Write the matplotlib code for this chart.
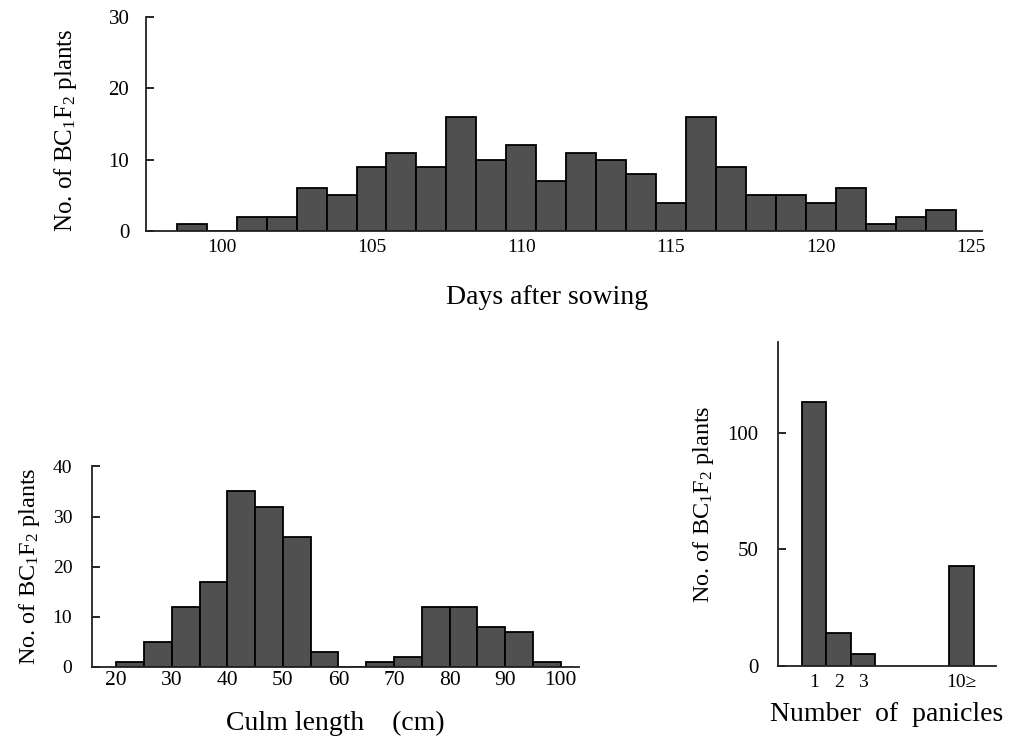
import matplotlib
matplotlib.use("Agg")
import matplotlib.pyplot as plt

plt.rcParams['font.family'] = ['Liberation Serif', 'DejaVu Serif']
plt.rcParams['mathtext.fontset'] = 'custom'
plt.rcParams['mathtext.rm'] = 'Liberation Serif'
plt.rcParams['mathtext.it'] = 'Liberation Serif:italic'

# Days after sowing (heading date), BC1F2 plants
days = list(range(99, 125))
days_counts = [1, 0, 2, 2, 6, 5, 9, 11, 9, 16, 10, 12, 7, 11, 10, 8, 4, 16, 9, 5, 5, 4, 6, 1, 2, 3]
days_ticks = [100, 105, 110, 115, 120, 125]

# Culm length (cm), bins of 5 cm starting at 20
culm_left = [20, 25, 30, 35, 40, 45, 50, 55, 60, 65, 70, 75, 80, 85, 90, 95]
culm_counts = [1, 5, 12, 17, 35, 32, 26, 3, 0, 1, 2, 12, 12, 8, 7, 1]
culm_ticks = [20, 30, 40, 50, 60, 70, 80, 90, 100]

# Number of panicles
pan_labels = ['1', '2', '3', '10≥']
pan_pos = [1, 2, 3, 7]
pan_counts = [113, 14, 5, 43]

ylab = r"No. of BC$_{\mathrm{1}}$F$_{\mathrm{2}}$ plants"
bar_kw = dict(color='#505050', edgecolor='black', linewidth=1.3)

fig = plt.figure(figsize=(10.09, 7.43), dpi=100)


def style(ax):
    for s in ['top', 'right']:
        ax.spines[s].set_visible(False)
    for s in ['left', 'bottom']:
        ax.spines[s].set_linewidth(1.3)
        ax.spines[s].set_color('#222222')


# top panel
ax1 = fig.add_axes([0.1447, 0.689, 0.829, 0.288])
ax1.bar(days, days_counts, width=1.0, **bar_kw)
ax1.set_xlim(97.47, 125.4)
ax1.set_ylim(0, 30)
ax1.set_yticks([0, 10, 20, 30])
ax1.set_xticks(days_ticks)
ax1.tick_params(axis='y', direction='in', length=6, width=1.2, pad=12, labelsize=15)
ax1.tick_params(axis='x', length=0, pad=6, labelsize=14)
ax1.set_xlabel('Days after sowing', fontsize=20)
ax1.xaxis.set_label_coords(0.479, -0.253)
ax1.set_ylabel(ylab, fontsize=18)
ax1.yaxis.set_label_coords(-0.08, 0.47)
style(ax1)

# bottom left panel
ax2 = fig.add_axes([0.0909, 0.1027, 0.483, 0.2695])
ax2.bar(culm_left, culm_counts, width=5, align='edge', **bar_kw)
ax2.set_xlim(15.6, 103.3)
ax2.set_ylim(0, 40)
ax2.set_yticks([0, 10, 20, 30, 40])
ax2.set_xticks(culm_ticks)
ax2.tick_params(axis='y', direction='in', length=6, width=1.2, pad=14, labelsize=14)
ax2.tick_params(axis='x', length=0, pad=3, labelsize=15.5)
ax2.set_xlabel('Culm length    (cm)', fontsize=20, labelpad=15)
ax2.set_ylabel(ylab, fontsize=17.5, labelpad=8)
style(ax2)

# bottom right panel
ax3 = fig.add_axes([0.771, 0.1036, 0.216, 0.4365])
ax3.bar(pan_pos, pan_counts, width=1.0, **bar_kw)
ax3.set_xlim(-0.47, 8.4)
ax3.set_ylim(0, 139)
ax3.set_yticks([0, 50, 100])
ax3.set_xticks(pan_pos)
ax3.set_xticklabels(pan_labels)
ax3.tick_params(axis='y', direction='in', length=6, width=1.2, pad=14, labelsize=15)
ax3.tick_params(axis='x', length=0, pad=6, labelsize=14)
ax3.set_xlabel('Number  of  panicles', fontsize=20, labelpad=8)
ax3.set_ylabel(ylab, fontsize=17.5, labelpad=8)
style(ax3)

fig.savefig('out.png', dpi=100)
